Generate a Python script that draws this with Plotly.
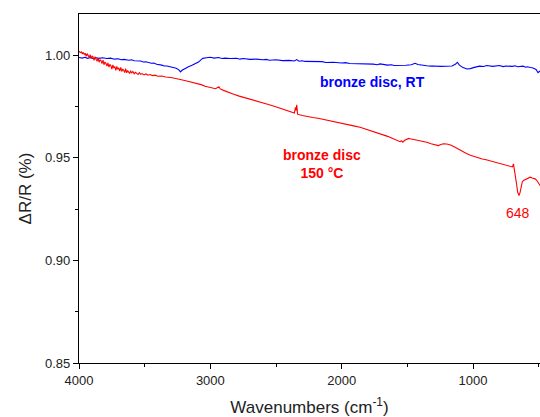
import plotly.graph_objects as go

# Blue: bronze disc, RT  (wavenumber, value)
rt_points = [
    (4000, 0.9988), (3975, 0.9985), (3955, 0.9989), (3935, 0.9984), (3910, 0.9988), (3890, 0.9983),
    (3870, 0.9987), (3850, 0.9984), (3820, 0.9987), (3788, 0.9983), (3760, 0.9985), (3730, 0.9980),
    (3700, 0.9982), (3680, 0.9977), (3659, 0.9979), (3620, 0.9975), (3600, 0.9977), (3580, 0.9972),
    (3530, 0.9971), (3510, 0.9966), (3490, 0.9967), (3450, 0.9960), (3430, 0.9961), (3409, 0.9955),
    (3370, 0.9951), (3350, 0.9947), (3330, 0.9947), (3300, 0.9942), (3280, 0.9941), (3260, 0.9936),
    (3240, 0.9928), (3227, 0.9918), (3215, 0.9926), (3195, 0.9935), (3170, 0.9942), (3140, 0.9950),
    (3110, 0.9958), (3090, 0.9966), (3070, 0.9978), (3057, 0.9984), (3030, 0.9987), (3002, 0.9989),
    (2970, 0.9985), (2940, 0.9988), (2910, 0.9983), (2890, 0.9985), (2850, 0.9983), (2800, 0.9984),
    (2775, 0.9980), (2750, 0.9983), (2698, 0.9979), (2650, 0.9980), (2600, 0.9977), (2575, 0.9979),
    (2550, 0.9975), (2500, 0.9977), (2450, 0.9973), (2400, 0.9974), (2360, 0.9971), (2342, 0.9978),
    (2325, 0.9970), (2300, 0.9972), (2280, 0.9969), (2230, 0.9969), (2180, 0.9966), (2150, 0.9968),
    (2120, 0.9964), (2065, 0.9965), (2000, 0.9961), (1970, 0.9963), (1940, 0.9959), (1880, 0.9958),
    (1850, 0.9960), (1820, 0.9956), (1760, 0.9956), (1730, 0.9953), (1708, 0.9957), (1650, 0.9951),
    (1620, 0.9953), (1600, 0.9949), (1555, 0.9948), (1510, 0.9950), (1470, 0.9953), (1441, 0.9960),
    (1420, 0.9954), (1390, 0.9950), (1352, 0.9948), (1320, 0.9946), (1300, 0.9947), (1250, 0.9945),
    (1200, 0.9946), (1160, 0.9947), (1135, 0.9955), (1119, 0.9965), (1105, 0.9952), (1080, 0.9940),
    (1047, 0.9932), (1020, 0.9934), (990, 0.9940), (950, 0.9946), (920, 0.9944), (895, 0.9949),
    (850, 0.9945), (800, 0.9949), (770, 0.9944), (750, 0.9947), (700, 0.9945), (680, 0.9948),
    (660, 0.9943), (619, 0.9946), (600, 0.9941), (590, 0.9943), (560, 0.9939), (543, 0.9937),
    (520, 0.9930), (505, 0.9914), (495, 0.9920), (490, 0.9922),
]

# Red: bronze disc, 150 °C  (wavenumber, value)
ht_points = [
    (4000, 1.0019), (3990, 1.0012), (3982, 1.0016), (3975, 1.0006), (3968, 1.0013), (3960, 1.0003),
    (3953, 1.0009), (3945, 0.9994), (3938, 1.0007), (3930, 0.9998), (3922, 0.9988), (3915, 1.0002),
    (3907, 0.9983), (3900, 0.9996), (3893, 0.9990), (3885, 0.9974), (3878, 0.9992), (3870, 0.9980),
    (3862, 0.9970), (3855, 0.9986), (3847, 0.9965), (3840, 0.9978), (3832, 0.9972), (3825, 0.9958),
    (3817, 0.9975), (3810, 0.9953), (3802, 0.9966), (3795, 0.9960), (3787, 0.9946), (3780, 0.9962),
    (3772, 0.9941), (3765, 0.9955), (3757, 0.9948), (3750, 0.9932), (3742, 0.9952), (3735, 0.9937),
    (3727, 0.9944), (3720, 0.9926), (3712, 0.9945), (3705, 0.9930), (3697, 0.9938), (3690, 0.9922),
    (3682, 0.9940), (3675, 0.9920), (3667, 0.9932), (3660, 0.9926), (3652, 0.9915), (3645, 0.9934),
    (3637, 0.9913), (3630, 0.9925), (3622, 0.9918), (3615, 0.9910), (3607, 0.9924), (3600, 0.9912),
    (3590, 0.9920), (3580, 0.9909), (3570, 0.9916), (3560, 0.9911), (3550, 0.9905), (3540, 0.9914),
    (3530, 0.9906), (3520, 0.9910), (3505, 0.9903), (3490, 0.9908), (3475, 0.9902), (3460, 0.9905),
    (3440, 0.9900), (3420, 0.9902), (3400, 0.9897), (3370, 0.9898), (3340, 0.9893), (3300, 0.9891),
    (3260, 0.9887), (3220, 0.9880), (3180, 0.9874), (3140, 0.9868), (3100, 0.9860), (3070, 0.9856),
    (3040, 0.9848), (3000, 0.9842), (2960, 0.9836), (2935, 0.9846), (2925, 0.9835), (2900, 0.9828),
    (2860, 0.9820), (2827, 0.9810), (2780, 0.9800), (2740, 0.9792), (2700, 0.9784), (2650, 0.9775),
    (2600, 0.9767), (2571, 0.9762), (2520, 0.9752), (2480, 0.9743), (2440, 0.9735), (2400, 0.9727),
    (2370, 0.9721), (2360, 0.9718), (2352, 0.9745), (2347, 0.9730), (2342, 0.9758), (2336, 0.9712),
    (2300, 0.9706), (2260, 0.9700), (2220, 0.9696), (2180, 0.9692), (2140, 0.9687), (2100, 0.9682),
    (2065, 0.9677), (2020, 0.9670), (1980, 0.9664), (1940, 0.9659), (1900, 0.9654), (1860, 0.9648),
    (1820, 0.9640), (1780, 0.9632), (1740, 0.9625), (1708, 0.9619), (1680, 0.9612), (1650, 0.9604),
    (1620, 0.9596), (1600, 0.9590), (1580, 0.9586), (1565, 0.9580), (1555, 0.9578), (1545, 0.9583),
    (1535, 0.9576), (1520, 0.9585), (1505, 0.9590), (1490, 0.9594), (1479, 0.9592), (1460, 0.9590),
    (1440, 0.9586), (1420, 0.9583), (1400, 0.9580), (1380, 0.9578), (1352, 0.9575), (1320, 0.9568),
    (1290, 0.9563), (1264, 0.9559), (1245, 0.9564), (1225, 0.9568), (1200, 0.9567), (1170, 0.9562),
    (1140, 0.9552), (1110, 0.9540), (1080, 0.9530), (1050, 0.9520), (1020, 0.9512), (990, 0.9505),
    (960, 0.9498), (930, 0.9494), (900, 0.9490), (870, 0.9485), (845, 0.9481), (810, 0.9474),
    (780, 0.9468), (750, 0.9464), (720, 0.9459), (700, 0.9455), (692, 0.9470), (686, 0.9448),
    (678, 0.9420), (668, 0.9370), (660, 0.9332), (650, 0.9316), (642, 0.9330), (634, 0.9360),
    (625, 0.9382), (616, 0.9389), (600, 0.9395), (585, 0.9400), (565, 0.9405), (550, 0.9401),
    (535, 0.9398), (527, 0.9397), (515, 0.9390), (505, 0.9378), (495, 0.9368), (490, 0.9365),
]

rt_x = [p[0] for p in rt_points]
rt_y = [p[1] for p in rt_points]
ht_x = [p[0] for p in ht_points]
ht_y = [p[1] for p in ht_points]

x_ticks = [4000, 3000, 2000, 1000]
x_tick_text = ["4000", "3000", "2000", "1000"]
y_ticks = [0.85, 0.90, 0.95, 1.00]
y_tick_text = ["0.85", "0.90", "0.95", "1.00"]

FONT = "Liberation Sans, Arial, sans-serif"

fig = go.Figure()
fig.add_trace(go.Scatter(x=rt_x, y=rt_y, mode="lines", line=dict(color="#0000FF", width=1.1),
                         name="bronze disc, RT", showlegend=False))
fig.add_trace(go.Scatter(x=ht_x, y=ht_y, mode="lines", line=dict(color="#FF0000", width=1.1),
                         name="bronze disc 150 °C", showlegend=False))

fig.add_annotation(x=1769, y=0.9867, text="<b>bronze disc, RT</b>", showarrow=False,
                   font=dict(family=FONT, size=14, color="#0000FF"))
fig.add_annotation(x=2149, y=0.9468, text="<b>bronze disc<br>150 °C</b>", showarrow=False,
                   font=dict(family=FONT, size=14, color="#FF0000"), align="center")
fig.add_annotation(x=657, y=0.9231, text="648", showarrow=False,
                   font=dict(family=FONT, size=14, color="#FF0000"))

fig.update_layout(
    width=540, height=417,
    margin=dict(l=79, r=0, t=14, b=54),
    plot_bgcolor="white", paper_bgcolor="white",
    font=dict(family=FONT, color="black"),
    xaxis=dict(
        range=[4000, 490], tickvals=x_ticks, ticktext=x_tick_text,
        ticks="outside", ticklen=5, tickwidth=1, tickcolor="black",
        showline=True, linecolor="black", linewidth=1.2, mirror=True,
        showgrid=False, zeroline=False,
        tickfont=dict(size=13, family=FONT, color="#222"),
        minor=dict(tickvals=[3500, 2500, 1500, 500], ticks="outside", ticklen=3, tickcolor="black"),
        title=dict(text="Wavenumbers (cm<sup>-1</sup>)", font=dict(size=17, family=FONT, color="#222"), standoff=15),
    ),
    yaxis=dict(
        range=[0.85, 1.02], tickvals=y_ticks, ticktext=y_tick_text,
        ticks="outside", ticklen=5, tickwidth=1, tickcolor="black",
        showline=True, linecolor="black", linewidth=1.2, mirror=True,
        showgrid=False, zeroline=False,
        tickfont=dict(size=13, family=FONT, color="#222"),
        minor=dict(tickvals=[0.875, 0.925, 0.975], ticks="outside", ticklen=3, tickcolor="black"),
        title=dict(text="ΔR/R (%)", font=dict(size=17, family=FONT, color="#222"), standoff=9),
    ),
)

fig.write_html("out.html")
